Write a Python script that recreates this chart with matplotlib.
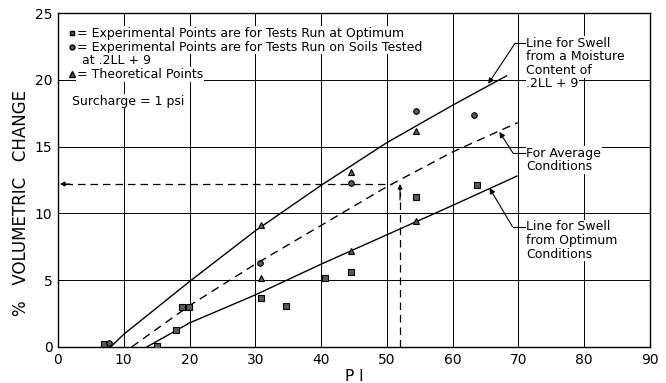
"""Volumetric change vs plasticity index (swell chart)."""
import matplotlib
matplotlib.use("Agg")
import matplotlib.pyplot as plt

# experimental points, tests run at optimum
opt_pi = [7.0, 15.0, 17.9, 18.8, 19.9, 30.8, 34.6, 40.6, 44.5, 54.5, 63.7]
opt_vc = [0.2, 0.1, 1.3, 3.0, 3.0, 3.7, 3.1, 5.2, 5.6, 11.2, 12.1]
# experimental points, soils tested at .2LL + 9
moist_pi = [7.8, 30.7, 44.5, 54.4, 63.2]
moist_vc = [0.3, 6.3, 12.3, 17.7, 17.4]
# theoretical points
theo_pi = [30.8, 30.8, 44.6, 44.6, 54.5, 54.5]
theo_vc = [9.1, 5.2, 13.1, 7.2, 16.2, 9.4]

# fitted lines
upper_pi = [8, 10, 20, 30, 40, 50, 60, 68.2]
upper_vc = [0, 0.95, 4.9, 8.7, 12.1, 15.3, 18.1, 20.3]
avg_pi = [11.2, 20, 30, 40, 50, 60, 69.9]
avg_vc = [0, 3.1, 6.2, 9.1, 12.0, 14.6, 16.8]
low_pi = [13.5, 20, 30, 40, 50, 60, 69.8]
low_vc = [0, 1.8, 3.9, 6.2, 8.4, 10.6, 12.8]

# example reading
read_pi = 52
read_vc = 12.2

x_ticks = list(range(0, 91, 10))
y_ticks = list(range(0, 26, 5))

FS = 9
WHITE = dict(facecolor="white", edgecolor="none", pad=0.5)

fig = plt.figure(figsize=(6.66, 3.83), dpi=100)
ax = fig.add_axes([0.087, 0.094, 0.889, 0.872])
ax.set_xlim(0, 90)
ax.set_ylim(0, 25)
ax.set_xticks(x_ticks)
ax.set_yticks(y_ticks)
ax.tick_params(length=0, labelsize=10, pad=4)
ax.grid(True, color="black", linewidth=0.7)
ax.set_axisbelow(True)
for s in ax.spines.values():
    s.set_linewidth(1.0)

ax.plot(upper_pi, upper_vc, color="black", lw=1.0, zorder=3)
ax.plot(avg_pi, avg_vc, color="black", lw=1.0, ls=(0, (6, 4)), zorder=3)
ax.plot(low_pi, low_vc, color="black", lw=1.0, zorder=3)

ax.plot(opt_pi, opt_vc, "s", ms=4, mfc="0.35", mec="black", mew=0.8, zorder=4)
ax.plot(moist_pi, moist_vc, "o", ms=4, mfc="0.35", mec="black", mew=0.8, zorder=4)
ax.plot(theo_pi, theo_vc, "^", ms=4.5, mfc="0.35", mec="black", mew=0.8, zorder=4)

# reading lines
ax.plot([read_pi, read_pi], [0, read_vc - 0.6], color="black", lw=0.9, ls=(0, (6, 4)), zorder=3)
ax.plot([1.0, read_pi - 1.2], [read_vc, read_vc], color="black", lw=0.9, ls=(0, (6, 4)), zorder=3)
arrow = dict(arrowstyle="-|>", color="black", lw=0.8, mutation_scale=7, shrinkA=0, shrinkB=0)
ax.annotate("", xy=(read_pi, read_vc), xytext=(read_pi, read_vc - 1.2), arrowprops=arrow, zorder=5)
ax.annotate("", xy=(0.3, read_vc), xytext=(1.8, read_vc), arrowprops=arrow, zorder=5)

# legend block
ax.plot([2.1], [23.5], "s", ms=3.5, mfc="0.35", mec="black", zorder=5)
ax.plot([2.1], [22.45], "o", ms=3.5, mfc="0.35", mec="black", zorder=5)
ax.plot([2.1], [20.4], "^", ms=4, mfc="0.35", mec="black", zorder=5)
ax.text(2.9, 23.5, "= Experimental Points are for Tests Run at Optimum",
        fontsize=FS, va="center", bbox=WHITE, zorder=4)
ax.text(2.9, 22.45, "= Experimental Points are for Tests Run on Soils Tested",
        fontsize=FS, va="center", bbox=WHITE, zorder=4)
ax.text(3.6, 21.45, "at .2LL + 9", fontsize=FS, va="center", bbox=WHITE, zorder=4)
ax.text(2.9, 20.4, "= Theoretical Points", fontsize=FS, va="center", bbox=WHITE, zorder=4)
ax.text(2.1, 18.4, "Surcharge = 1 psi", fontsize=FS, va="center", bbox=WHITE, zorder=4)

# callouts
def callout(lines, x, y, elbow, tip):
    for i, t in enumerate(lines):
        ax.text(x, y - i * 1.02, t, fontsize=FS, va="center", bbox=WHITE, zorder=4)
    ax.plot([x - 0.2, elbow[0]], [y, elbow[1]], color="black", lw=0.8, zorder=5)
    ax.annotate("", xy=tip, xytext=elbow, arrowprops=dict(arrowstyle="-|>", color="black", lw=0.8,
                mutation_scale=8, shrinkA=0, shrinkB=0), zorder=5)

callout(["Line for Swell", "from a Moisture", "Content of", ".2LL + 9"],
        71.2, 22.75, (69.5, 22.75), (65.4, 19.7))
callout(["For Average", "Conditions"], 71.2, 14.5, (69.2, 14.5), (67.1, 16.1))
callout(["Line for Swell", "from Optimum", "Conditions"], 71.2, 9.0, (69.1, 9.0), (65.6, 11.9))

ax.set_xlabel("P I", fontsize=11, labelpad=2)
ax.set_ylabel("%   VOLUMETRIC   CHANGE", fontsize=12)
ax.yaxis.set_label_coords(-0.048, 0.43)

fig.savefig("out.png", dpi=100)
plt.close(fig)
